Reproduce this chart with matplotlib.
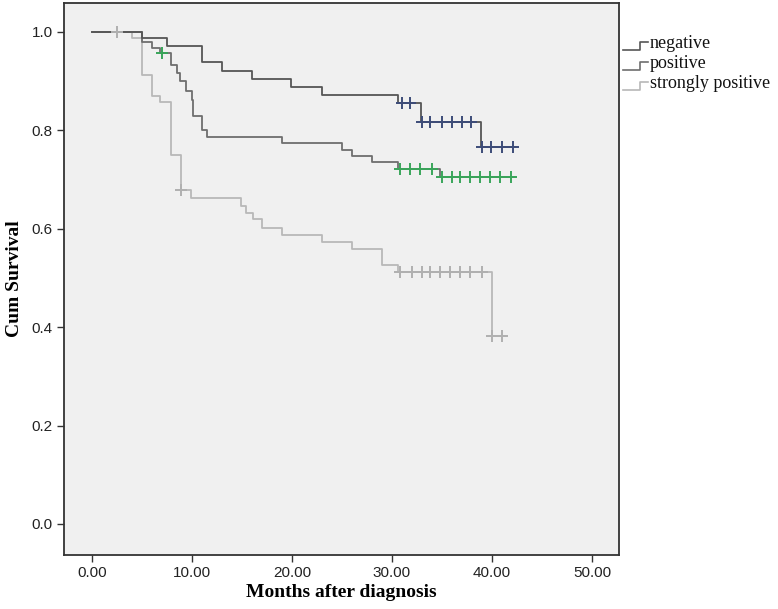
import numpy as np
import matplotlib
matplotlib.use("Agg")
import matplotlib.pyplot as plt
from matplotlib.lines import Line2D

# step times (months) and survival after each step
neg_t = [0, 4.97, 7.47, 10.97, 13.03, 16.03, 19.9, 23.03, 30.6, 32.9, 38.9]
neg_s = [1.0, 0.987, 0.972, 0.938, 0.921, 0.904, 0.888, 0.871, 0.855, 0.816, 0.765]
neg_end = 42.3
neg_cens = [31.0, 31.8, 33.0, 33.8, 35.0, 36.0, 37.0, 37.9, 39.0, 39.9, 41.0, 42.1]

pos_t = [0, 4.97, 6.0, 6.8, 7.9, 8.5, 8.8, 9.4, 9.97, 10.05, 10.97, 11.47,
         19.0, 25.0, 26.0, 28.0, 30.6, 34.8]
pos_s = [1.0, 0.980, 0.967, 0.957, 0.933, 0.916, 0.899, 0.879, 0.862, 0.828, 0.801, 0.787,
         0.774, 0.760, 0.748, 0.736, 0.722, 0.704]
pos_end = 42.3
pos_cens = [7.0, 30.8, 31.8, 32.8, 34.0, 35.0, 36.0, 36.8, 37.8, 38.8, 39.8, 40.8, 41.9]

str_t = [0, 3.97, 4.97, 5.97, 6.8, 7.9, 8.9, 9.9, 14.9, 15.4, 16.05, 16.95,
         19.0, 22.95, 26.0, 29.0, 30.6, 40.0]
str_s = [1.0, 0.987, 0.913, 0.869, 0.858, 0.750, 0.679, 0.662, 0.646, 0.632, 0.619, 0.602,
         0.588, 0.573, 0.559, 0.527, 0.511, 0.382]
str_end = 41.5
str_cens = [2.5, 8.9, 30.8, 32.0, 33.0, 33.8, 34.8, 35.8, 36.8, 37.8, 39.0, 40.0, 41.0]

labels = ["negative", "positive", "strongly positive"]
line_cols = ["#565656", "#6e6e6e", "#b8b8b8"]
cens_cols = ["#3d4c78", "#3aa55a", "#b0b0b0"]

serif = "Liberation Serif"
sans = "Liberation Sans"

fig = plt.figure(figsize=(7.78, 6.09), dpi=100)
ax = fig.add_axes([64 / 778, 1 - 555 / 609, (619 - 64) / 778, (555 - 2.7) / 609])
ax.set_facecolor("#f0f0f0")


def surv_at(t, times, surv):
    i = np.searchsorted(times, t, side="right") - 1
    return surv[i]


groups = [(neg_t, neg_s, neg_end, neg_cens),
          (pos_t, pos_s, pos_end, pos_cens),
          (str_t, str_s, str_end, str_cens)]

# draw lightest first so dark lines sit on top
for k in [2, 1, 0]:
    t, s, end, cens = groups[k]
    ax.step(t + [end], s + [s[-1]], where="post", color=line_cols[k], lw=1.3, zorder=2 + (2 - k))
    cy = [surv_at(c, t, s) for c in cens]
    ax.plot(cens, cy, ls="none", marker="+", ms=9, mew=1.4, color=cens_cols[k], zorder=5)

ax.set_xlim(-2.8, 52.7)
ax.set_ylim(-0.063, 1.059)
ax.set_xticks(np.arange(0, 51, 10))
ax.set_yticks(np.arange(0, 1.01, 0.2))
ax.set_xticklabels(["%.2f" % v for v in np.arange(0, 51, 10)], fontfamily=sans, fontsize=11, color="#222222")
ax.set_yticklabels(["%.1f" % v for v in np.arange(0, 1.01, 0.2)], fontfamily=sans, fontsize=11, color="#222222")
ax.tick_params(direction="out", length=5, width=1, color="#333333", pad=3)
for sp in ax.spines.values():
    sp.set_color("#333333")
    sp.set_linewidth(1.3)

ax.set_xlabel("Months after diagnosis", fontfamily=serif, fontweight="bold", fontsize=14, labelpad=3)
ax.set_ylabel("Cum Survival", fontfamily=serif, fontweight="bold", fontsize=14)
ax.yaxis.set_label_coords((23 - 64) / 555, 0.5)

# legend outside on the right, with small step glyphs like the original
leg_y = [44, 64, 84]
for k in range(3):
    yb = 1 - (leg_y[k] + 6) / 609
    yt = 1 - (leg_y[k] - 2) / 609
    x0, x1, x2 = 623 / 778, 640 / 778, 648 / 778
    fig.add_artist(Line2D([x0, x1, x1, x2], [yb, yb, yt, yt], transform=fig.transFigure,
                          color=line_cols[k], lw=1.2))
    fig.text(650 / 778, 1 - leg_y[k] / 609, labels[k], fontfamily=serif, fontsize=13,
             va="center", ha="left", color="#111111")

fig.savefig("out.png", dpi=100)
